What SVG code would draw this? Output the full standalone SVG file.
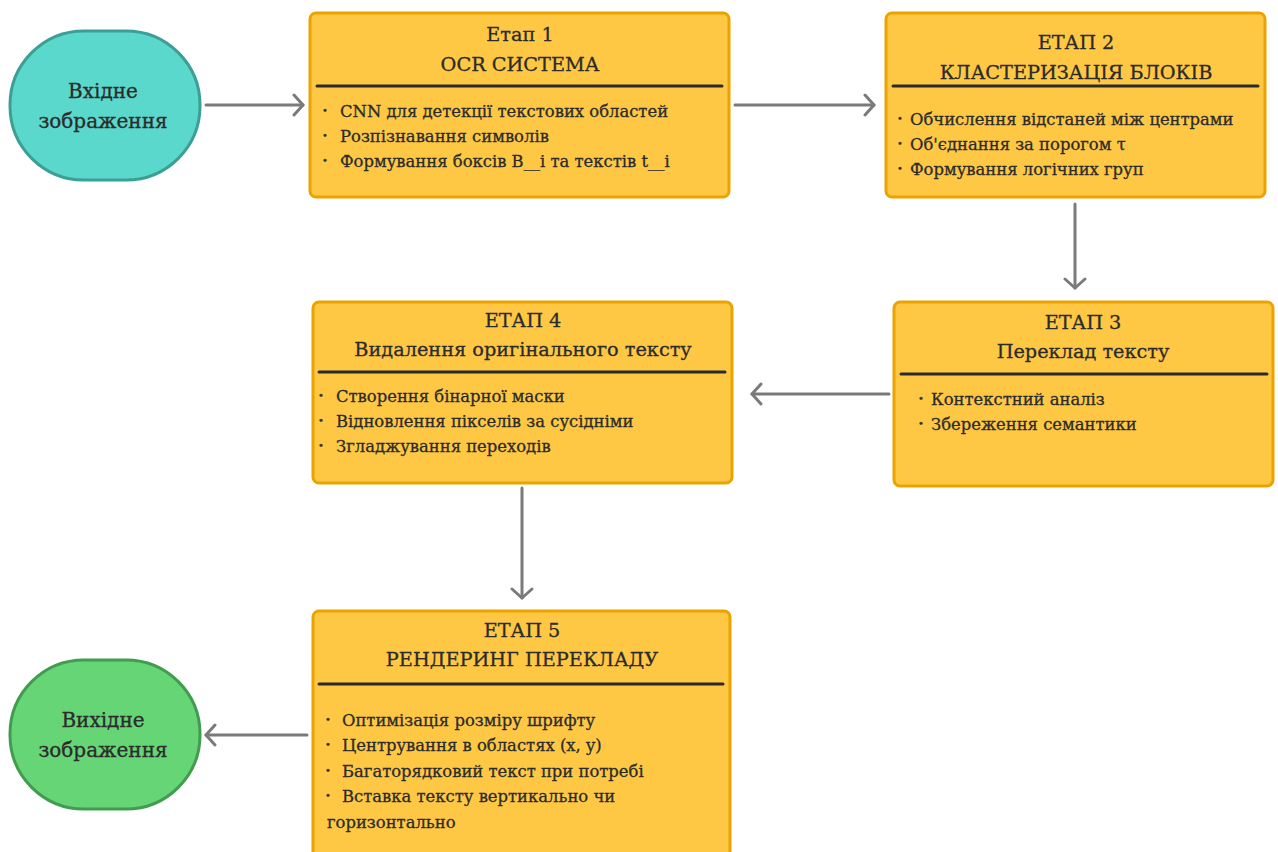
<svg xmlns="http://www.w3.org/2000/svg" width="1278" height="852" viewBox="0 0 1278 852">
  <defs>
    <marker id="chev" markerUnits="userSpaceOnUse" markerWidth="24" markerHeight="24" viewBox="-12 -12 24 24" refX="0" refY="0" orient="auto">
      <polyline points="-9,-10 0,0 -9,10" fill="none" stroke="#7a7a7a" stroke-width="3" stroke-linecap="round" stroke-linejoin="round"/>
    </marker>
    <style>
      .term-in { fill: #5ad8cc; stroke: #3c9f95; stroke-width: 3; }
      .term-out { fill: #66d575; stroke: #419c4f; stroke-width: 3; }
      .stage { fill: #ffc844; stroke: #eba300; stroke-width: 3; }
      .sep { stroke: #2a2a2a; stroke-width: 3; stroke-linecap: round; }
      .txt { font-family: "DejaVu Serif", "Liberation Serif", serif; fill: #2b2b2b; stroke: #2b2b2b; stroke-width: 0.3; }
      .term { font-size: 20px; text-anchor: middle; }
      .title { font-size: 19.3px; text-anchor: middle; }
      .item { font-size: 16.4px; }
      .dot { font-size: 10px; }
      .conn { fill: none; stroke: #7a7a7a; stroke-width: 3; stroke-linecap: round; marker-end: url(#chev); }
    </style>
  </defs>
  <rect width="1278" height="852" fill="#ffffff"/>

  <!-- connectors -->
  <g id="connectors">
    <path class="conn" d="M206,105 H303"/>
    <path class="conn" d="M735,105 H874"/>
    <path class="conn" d="M1075,204 V288"/>
    <path class="conn" d="M889,394 H752"/>
    <path class="conn" d="M522,488 V598"/>
    <path class="conn" d="M307,735 H206"/>
  </g>

  <!-- input image -->
  <g id="input">
    <rect class="term-in" x="10" y="31" width="190" height="149" rx="74" ry="74"/>
    <text class="txt term" x="103" y="98">Вхідне</text>
    <text class="txt term" x="103" y="128">зображення</text>
  </g>

  <!-- stage 1 -->
  <g id="stage1">
    <rect class="stage" x="310" y="13" width="419" height="184" rx="6"/>
    <text class="txt title" x="520" y="41">Етап 1</text>
    <text class="txt title" x="520" y="71">OCR СИСТЕМА</text>
    <line class="sep" x1="317" y1="86" x2="722" y2="86"/>
    <text class="txt dot" x="322" y="114">•</text>
    <text class="txt item" x="340" y="117">CNN для детекції текстових областей</text>
    <text class="txt dot" x="322" y="139">•</text>
    <text class="txt item" x="340" y="142">Розпізнавання символів</text>
    <text class="txt dot" x="322" y="164">•</text>
    <text class="txt item" x="340" y="167">Формування боксів B__i та текстів t__i</text>
  </g>

  <!-- stage 2 -->
  <g id="stage2">
    <rect class="stage" x="886" y="13" width="379" height="184" rx="6"/>
    <text class="txt title" x="1076" y="49">ЕТАП 2</text>
    <text class="txt title" x="1076" y="79">КЛАСТЕРИЗАЦІЯ БЛОКІВ</text>
    <line class="sep" x1="893" y1="86" x2="1258" y2="86"/>
    <text class="txt dot" x="897" y="122">•</text>
    <text class="txt item" x="910" y="125">Обчислення відстаней між центрами</text>
    <text class="txt dot" x="897" y="147">•</text>
    <text class="txt item" x="910" y="150">Об'єднання за порогом τ</text>
    <text class="txt dot" x="897" y="172">•</text>
    <text class="txt item" x="910" y="175">Формування логічних груп</text>
  </g>

  <!-- stage 3 -->
  <g id="stage3">
    <rect class="stage" x="894" y="302" width="379" height="184" rx="6"/>
    <text class="txt title" x="1083" y="329">ЕТАП 3</text>
    <text class="txt title" x="1083" y="358">Переклад тексту</text>
    <line class="sep" x1="901" y1="374" x2="1267" y2="374"/>
    <text class="txt dot" x="918" y="402">•</text>
    <text class="txt item" x="931" y="405">Контекстний аналіз</text>
    <text class="txt dot" x="918" y="427">•</text>
    <text class="txt item" x="931" y="430">Збереження семантики</text>
  </g>

  <!-- stage 4 -->
  <g id="stage4">
    <rect class="stage" x="313" y="302" width="419" height="181" rx="6"/>
    <text class="txt title" x="523" y="327">ЕТАП 4</text>
    <text class="txt title" x="523" y="356">Видалення оригінального тексту</text>
    <line class="sep" x1="319" y1="372" x2="725" y2="372"/>
    <text class="txt dot" x="318" y="399">•</text>
    <text class="txt item" x="336" y="402">Створення бінарної маски</text>
    <text class="txt dot" x="318" y="424">•</text>
    <text class="txt item" x="336" y="427">Відновлення пікселів за сусідніми</text>
    <text class="txt dot" x="318" y="449">•</text>
    <text class="txt item" x="336" y="452">Згладжування переходів</text>
  </g>

  <!-- stage 5 -->
  <g id="stage5">
    <rect class="stage" x="313" y="611" width="417" height="260" rx="6"/>
    <text class="txt title" x="522" y="637">ЕТАП 5</text>
    <text class="txt title" x="522" y="666">РЕНДЕРИНГ ПЕРЕКЛАДУ</text>
    <line class="sep" x1="319" y1="684" x2="723" y2="684"/>
    <text class="txt dot" x="325" y="723">•</text>
    <text class="txt item" x="342" y="726">Оптимізація розміру шрифту</text>
    <text class="txt dot" x="325" y="748">•</text>
    <text class="txt item" x="342" y="751">Центрування в областях (x, y)</text>
    <text class="txt dot" x="325" y="774">•</text>
    <text class="txt item" x="342" y="777">Багаторядковий текст при потребі</text>
    <text class="txt dot" x="325" y="799">•</text>
    <text class="txt item" x="342" y="802">Вставка тексту вертикально чи</text>
    <text class="txt item" x="327" y="828">горизонтально</text>
  </g>

  <!-- output image -->
  <g id="output">
    <rect class="term-out" x="10" y="660" width="190" height="149" rx="74" ry="74"/>
    <text class="txt term" x="103" y="727">Вихідне</text>
    <text class="txt term" x="103" y="757">зображення</text>
  </g>
</svg>
